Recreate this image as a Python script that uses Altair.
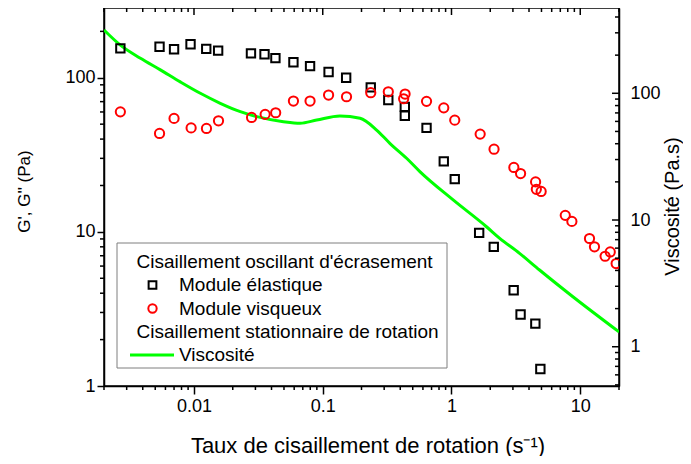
import altair as alt
import pandas as pd

# ---- data ----
x_elastic = [0.00268, 0.0054, 0.0070, 0.0094, 0.01245, 0.0154, 0.0277, 0.0353, 0.0429, 0.0592,
             0.0797, 0.111, 0.152, 0.236, 0.323, 0.434, 0.434, 0.640, 0.871, 1.06,
             1.64, 2.13, 3.04, 3.44, 4.48, 4.90]
g_elastic = [155, 159, 153, 165, 154, 150, 144, 142, 134, 126,
             119, 109, 100, 86.7, 71.7, 64.8, 56.7, 47.3, 28.7, 22.0,
             9.86, 8.0, 4.18, 2.91, 2.54, 1.29]

x_viscous = [0.00268, 0.0054, 0.0070, 0.0095, 0.0125, 0.0155, 0.0280, 0.0357, 0.0431, 0.0592,
             0.0797, 0.111, 0.153, 0.236, 0.323, 0.425, 0.436, 0.640, 0.871, 1.06,
             1.67, 2.14, 3.05, 3.44, 4.50, 4.56, 4.97, 7.65, 8.61, 11.8,
             12.9, 15.6, 17.1, 19.0]
g_viscous = [60.1, 43.5, 54.5, 47.3, 46.9, 52.6, 55.3, 57.9, 59.3, 70.6,
             70.6, 77.2, 75.3, 80.0, 81.1, 73.1, 78.4, 70.3, 63.8, 53.1,
             43.1, 34.4, 26.2, 23.9, 21.1, 18.9, 18.3, 12.8, 11.7, 9.06,
             8.0, 6.95, 7.41, 6.23]

x_rot = [0.0020, 0.00268, 0.00384, 0.00548, 0.00783, 0.0112, 0.016, 0.0229, 0.0308, 0.0495,
         0.0667, 0.0898, 0.136, 0.195, 0.262, 0.332, 0.448, 0.568, 1.03, 1.87,
         2.37, 3.38, 4.83, 8.77, 20.0]
eta_rot = [316, 240, 189, 153, 123, 100, 83.4, 71.6, 65.4, 59.7,
           58.0, 61.5, 66.2, 63.5, 51.3, 40.3, 30.7, 24.1, 14.4, 8.85,
           7.17, 5.46, 4.03, 2.48, 1.31]

# tick values
x_major = [0.01, 0.1, 1, 10]
x_minor = [0.002, 0.003, 0.004, 0.005, 0.006, 0.007, 0.008, 0.009,
           0.02, 0.03, 0.04, 0.05, 0.06, 0.07, 0.08, 0.09,
           0.2, 0.3, 0.4, 0.5, 0.6, 0.7, 0.8, 0.9,
           2, 3, 4, 5, 6, 7, 8, 9, 20]
g_major = [1, 10, 100]
g_minor = [2, 3, 4, 5, 6, 7, 8, 9, 20, 30, 40, 50, 60, 70, 80, 90, 200]
eta_major = [1, 10, 100]
eta_minor = [0.5, 0.6, 0.7, 0.8, 0.9, 2, 3, 4, 5, 6, 7, 8, 9,
             20, 30, 40, 50, 60, 70, 80, 90, 200, 300, 400]

# legend texts
legend_head1 = "Cisaillement oscillant d'écrasement"
legend_item1 = "Module élastique"
legend_item2 = "Module visqueux"
legend_head2 = "Cisaillement stationnaire de rotation"
legend_item3 = "Viscosité"

W, H = 515, 378
FONT = "Liberation Sans"
GREEN = "#00ff00"
RED = "#ff0000"

xscale = alt.Scale(type="log", domain=[0.002, 20], nice=False, zero=False)
gscale = alt.Scale(type="log", domain=[1, 283.6], nice=False, zero=False)
escale = alt.Scale(type="log", domain=[0.49, 471], nice=False, zero=False)

df_el = pd.DataFrame({"x": x_elastic, "g": g_elastic})
df_vi = pd.DataFrame({"x": x_viscous, "g": g_viscous})
df_rot = pd.DataFrame({"x": x_rot, "eta": eta_rot})
one = pd.DataFrame({"a": [0]})

x_axis = alt.Axis(values=x_major, format="~g", grid=False, orient="bottom", tickSize=8,
                  tickWidth=1.5, tickColor="black", labelPadding=3, labelFontSize=18,
                  labelFont=FONT, labelColor="black", domainColor="black", domainWidth=1.5,
                  title="Taux de cisaillement de rotation (s⁻¹)", titleFont=FONT,
                  titleFontSize=22, titleFontWeight="normal", titleColor="black",
                  titleX=W / 2 + 6, titleY=59, titleBaseline="middle")
g_axis = alt.Axis(values=g_major, format="~g", grid=False, orient="left", tickSize=7,
                  tickWidth=1.5, tickColor="black", labelPadding=2, labelFontSize=18,
                  labelFont=FONT, labelColor="black", domainColor="black", domainWidth=1.5,
                  title="G', G'' (Pa)", titleFont=FONT, titleFontSize=17,
                  titleFontWeight="normal", titleColor="black", titleX=-80, titleY=183,
                  titleBaseline="middle", titleAngle=270)
e_axis = alt.Axis(values=eta_major, format="~g", grid=False, orient="right", ticks=False,
                  labelPadding=11, labelFontSize=18, labelFont=FONT,
                  labelColor="black", domainColor="black", domainWidth=1.5,
                  title="Viscosité (Pa.s)", titleFont=FONT, titleFontSize=20,
                  titleFontWeight="normal", titleColor="black", titleX=53, titleY=198,
                  titleBaseline="middle", titleAngle=270)

X = lambda f: alt.X(f, scale=xscale, axis=x_axis)

squares = alt.Chart(df_el).mark_point(shape="square", filled=False, color="black",
                                      strokeWidth=2, size=70, opacity=1, clip=True).encode(
    x=X("x:Q"),
    y=alt.Y("g:Q", scale=gscale, axis=g_axis),
)
circles = alt.Chart(df_vi).mark_point(shape="circle", filled=False, color=RED,
                                      strokeWidth=2, size=85, opacity=1, clip=True).encode(
    x=X("x:Q"),
    y=alt.Y("g:Q", scale=gscale, axis=None),
)
visc_line = alt.Chart(df_rot).mark_line(color=GREEN, strokeWidth=3, clip=True,
                                        interpolate="monotone").encode(
    x=X("x:Q"),
    y=alt.Y("eta:Q", scale=escale, axis=e_axis),
)

# minor / mirrored ticks
def xticks(vals, y0, y1):
    return alt.Chart(pd.DataFrame({"x": vals})).mark_rule(color="black", strokeWidth=1.5).encode(
        x=X("x:Q"), y=alt.value(y0), y2=alt.value(y1))

def gticks(vals, x0, x1):
    return alt.Chart(pd.DataFrame({"t": vals})).mark_rule(color="black", strokeWidth=1.5).encode(
        y=alt.Y("t:Q", scale=gscale, axis=None), x=alt.value(x0), x2=alt.value(x1))

def eticks(vals, x0, x1):
    return alt.Chart(pd.DataFrame({"t": vals})).mark_rule(color="black", strokeWidth=1.5).encode(
        y=alt.Y("t:Q", scale=escale, axis=None), x=alt.value(x0), x2=alt.value(x1))

# legend
box = alt.Chart(one).mark_rect(fill="white", stroke="#7f7f7f", strokeWidth=1).encode(
    x=alt.value(13), x2=alt.value(343), y=alt.value(235), y2=alt.value(360))

def ltext(txt, x, y):
    return alt.Chart(one).mark_text(align="left", baseline="middle", font=FONT, fontSize=19,
                                    color="black").encode(
        x=alt.value(x), y=alt.value(y), text=alt.value(txt))

leg_sq = alt.Chart(one).mark_point(shape="square", filled=False, color="black", strokeWidth=2,
                                   size=60, opacity=1).encode(x=alt.value(48.5), y=alt.value(277))
leg_ci = alt.Chart(one).mark_point(shape="circle", filled=False, color=RED, strokeWidth=2,
                                   size=70, opacity=1).encode(x=alt.value(48.5), y=alt.value(300.5))
leg_line = alt.Chart(one).mark_rule(color=GREEN, strokeWidth=3).encode(
    x=alt.value(26), x2=alt.value(70), y=alt.value(347))

chart = alt.layer(
    visc_line, squares, circles,
    xticks(x_minor, H, H + 4), xticks(x_major, 0, 7), xticks(x_minor, 0, 4),
    gticks(g_minor, -4, 0),
    eticks(eta_major, W - 7, W), eticks(eta_minor, W - 4, W),
    box, ltext(legend_head1, 32.5, 254), leg_sq, ltext(legend_item1, 75, 277),
    leg_ci, ltext(legend_item2, 75, 300.5), ltext(legend_head2, 32.5, 324),
    leg_line, ltext(legend_item3, 75, 347),
).resolve_scale(y="independent").properties(
    width=W, height=H,
    autosize=alt.AutoSizeParams(type="none"),
    padding={"left": 96, "top": 0, "right": 64, "bottom": 70},
).configure_view(stroke="black", strokeWidth=1.5)

chart.save("out.html", embed_options={"renderer": "svg", "actions": False})
